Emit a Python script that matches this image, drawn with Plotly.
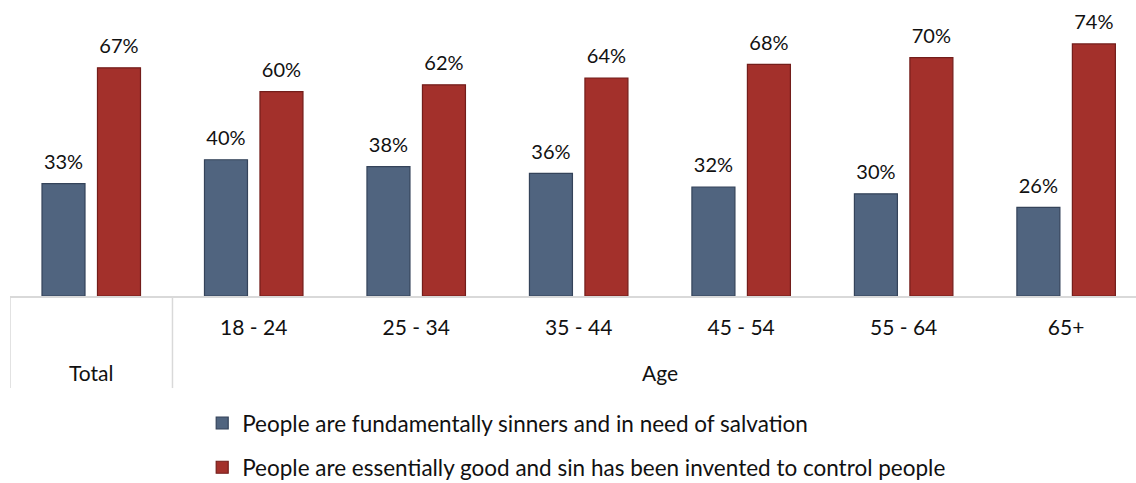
import plotly.graph_objects as go

# Survey results by age band (percent)
categories = ["Total", "18 - 24", "25 - 34", "35 - 44", "45 - 54", "55 - 64", "65+"]
tick_text = ["", "18 - 24", "25 - 34", "35 - 44", "45 - 54", "55 - 64", "65+"]
sinners = [33, 40, 38, 36, 32, 30, 26]
good = [67, 60, 62, 64, 68, 70, 74]
series_names = [
    "People are fundamentally sinners and in need of salvation",
    "People are essentially good and sin has been invented to control people",
]

FONT = "Lato"
INK = "#111111"
W, H = 1136, 483

series = [
    (sinners, series_names[0], "#50647f", "#34435a", "a"),
    (good, series_names[1], "#a3302b", "#731d1a", "b"),
]

fig = go.Figure()
for vals, name, fill, edge, grp in series:
    fig.add_trace(go.Bar(
        x=categories, y=vals, name=name, legendgroup=grp, offsetgroup=grp,
        marker=dict(color=fill, line=dict(color=edge, width=1.2)),
        hoverinfo="skip",
    ))
# Value labels, lifted a little above each bar top
for vals, name, fill, edge, grp in series:
    fig.add_trace(go.Scatter(
        x=categories, y=vals, offsetgroup=grp, mode="markers+text",
        marker=dict(size=14, opacity=0), text=[f"{v}%" for v in vals],
        textposition="top center", showlegend=False, hoverinfo="skip",
        textfont=dict(family=FONT, size=20, color=INK), cliponaxis=False,
    ))

# Group dividers below the axis and the second label row
grid = "#d9d9d9"
for xv in [-0.5, 0.5]:
    fig.add_shape(type="line", xref="x", yref="paper", x0=xv, x1=xv,
                  y0=0, y1=-0.311, line=dict(color=grid, width=1.5))
for label, pos in [("Total", 0), ("Age", 3.5)]:
    fig.add_annotation(x=pos, y=-0.26, xref="x", yref="paper", text=label,
                       yanchor="middle", showarrow=False,
                       font=dict(family=FONT, size=21, color=INK))

fig.update_layout(
    width=W, height=H,
    margin=dict(l=10, r=0, t=0, b=187, autoexpand=False),
    plot_bgcolor="white", paper_bgcolor="white",
    barmode="group", bargap=0.317, bargroupgap=0.225,
    scattermode="group", scattergap=0.317,
    font=dict(family=FONT, size=21, color=INK),
    showlegend=True,
    legend=dict(
        xref="container", yref="container", x=0.178, y=0.168,
        xanchor="left", yanchor="top", tracegroupgap=12,
        font=dict(family=FONT, size=22.5, color=INK),
        bgcolor="rgba(0,0,0,0)",
    ),
    xaxis=dict(
        type="category", categoryorder="array", categoryarray=categories,
        tickmode="array", tickvals=categories, ticktext=tick_text,
        range=[-0.5, 6.43], showline=True, linecolor=grid, linewidth=1.5,
        ticks="", showgrid=False, ticklabelstandoff=12, tickangle=0,
        automargin=False,
        tickfont=dict(family=FONT, size=21, color=INK),
        fixedrange=True,
    ),
    yaxis=dict(range=[0, 86.9], visible=False, fixedrange=True),
)

fig.write_html("out.html")
